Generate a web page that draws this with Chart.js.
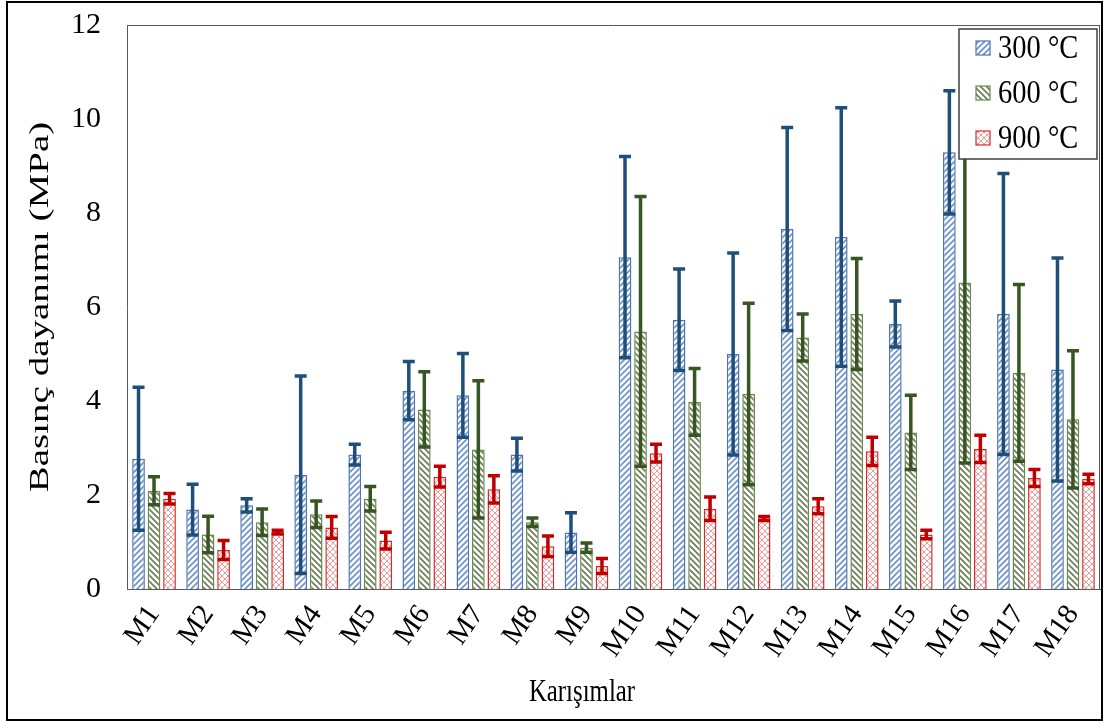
<!DOCTYPE html>
<html>
<head>
<meta charset="utf-8">
<script src="https://cdn.jsdelivr.net/npm/chart.js@4/dist/chart.umd.min.js"></script>
<style>
  body { margin: 0; background: #fff; }
  canvas { display: block; }
</style>
</head>
<body>
<canvas id="chart" width="1105" height="722"></canvas>
<script>
// categories
var mixes = ['M1','M2','M3','M4','M5','M6','M7','M8','M9','M10','M11','M12','M13','M14','M15','M16','M17','M18'];
var seriesNames = ['300 °C', '600 °C', '900 °C'];

// mean compressive strength (MPa)
var mean300 = [2.77,1.69,1.78,2.43,2.86,4.22,4.12,2.86,1.20,7.06,5.73,5.00,7.66,7.49,5.64,9.29,5.85,4.67];
var mean600 = [2.09,1.16,1.42,1.59,1.92,3.82,2.97,1.42,0.88,5.48,3.98,4.15,5.35,5.85,3.33,6.52,4.60,3.61];
var mean900 = [1.92,0.83,1.21,1.31,1.03,2.39,2.12,0.91,0.49,2.89,1.71,1.50,1.76,2.93,1.16,2.98,2.36,2.34];

// error bar half widths (MPa)
var err300 = [1.52,0.54,0.14,2.10,0.22,0.62,0.89,0.35,0.42,2.14,1.08,2.15,2.16,2.75,0.49,1.31,2.99,2.37];
var err600 = [0.30,0.39,0.28,0.28,0.26,0.80,1.46,0.09,0.10,2.87,0.71,1.93,0.50,1.18,0.79,3.84,1.88,1.46];
var err900 = [0.11,0.20,0.04,0.23,0.18,0.22,0.29,0.22,0.16,0.19,0.25,0.04,0.16,0.30,0.09,0.29,0.18,0.10];

var yTicks = [0, 2, 4, 6, 8, 10, 12];
var xTitle = 'Karışımlar';
var yTitle = 'Basınç dayanımı (MPa)';

var FONT = "'Liberation Serif', 'Times New Roman', serif";
var canvas = document.getElementById('chart');
var ctx = canvas.getContext('2d');

// hatch fills
function makeHatch(color, kind) {
  var s = 6;
  var c = document.createElement('canvas');
  c.width = s; c.height = s;
  var g = c.getContext('2d');
  g.fillStyle = '#fff';
  g.fillRect(0, 0, s, s);
  g.strokeStyle = color;
  g.lineWidth = kind == 'cross' ? 0.9 : 1.7;
  g.beginPath();
  if (kind == 'up' || kind == 'cross') {
    g.moveTo(-1, s + 1); g.lineTo(s + 1, -1);
    g.moveTo(-1, 1); g.lineTo(1, -1);
    g.moveTo(s - 1, s + 1); g.lineTo(s + 1, s - 1);
  }
  if (kind == 'down' || kind == 'cross') {
    g.moveTo(-1, -1); g.lineTo(s + 1, s + 1);
    g.moveTo(s - 1, -1); g.lineTo(s + 1, 1);
    g.moveTo(-1, s - 1); g.lineTo(1, s + 1);
  }
  g.stroke();
  return ctx.createPattern(c, 'repeat');
}

var fills = [makeHatch('#6f93c6', 'up'), makeHatch('#6c7f58', 'down'), makeHatch('#eb8f8f', 'cross')];
var borders = ['#4f76b0', '#6b8752', '#d62b2b'];
var errColors = ['#1f4e79', '#375623', '#c00000'];
var means = [mean300, mean600, mean900];
var errs = [err300, err600, err900];

var datasets = seriesNames.map(function(name, i) {
  return {
    label: name,
    data: means[i],
    errors: errs[i],
    backgroundColor: fills[i],
    borderColor: borders[i],
    borderWidth: 1.5,
    categoryPercentage: 0.86,
    barPercentage: 0.82,
  };
});

// error bars, drawn with the y scale
var errorBars = {
  id: 'errorBars',
  afterDatasetsDraw: function(chart) {
    var c = chart.ctx, y = chart.scales.y;
    chart.data.datasets.forEach(function(ds, i) {
      var meta = chart.getDatasetMeta(i);
      c.save();
      c.strokeStyle = errColors[i];
      c.lineWidth = 3.5;
      meta.data.forEach(function(bar, j) {
        var hi = y.getPixelForValue(ds.data[j] + ds.errors[j]);
        var lo = y.getPixelForValue(ds.data[j] - ds.errors[j]);
        c.beginPath();
        c.moveTo(bar.x, hi); c.lineTo(bar.x, lo);
        c.moveTo(bar.x - 6, hi); c.lineTo(bar.x + 6, hi);
        c.moveTo(bar.x - 6, lo); c.lineTo(bar.x + 6, lo);
        c.stroke();
      });
      c.restore();
    });
  }
};

// axis titles, plot frame, legend box and outer frame
var frame = {
  id: 'frame',
  afterDraw: function(chart) {
    var c = chart.ctx, a = chart.chartArea;
    c.save();
    c.strokeStyle = '#595959';
    c.lineWidth = 1;
    c.beginPath();
    c.moveTo(a.left, a.top + 0.5); c.lineTo(a.right, a.top + 0.5);
    c.moveTo(a.right - 0.5, a.top); c.lineTo(a.right - 0.5, a.bottom);
    c.stroke();

    // axis titles (slightly tall type, as in the source image)
    c.fillStyle = '#000';
    c.textAlign = 'center';
    c.textBaseline = 'middle';
    c.font = '30px ' + FONT;
    c.save();
    c.translate(41, (a.top + a.bottom) / 2);
    c.rotate(-Math.PI / 2);
    c.scale(1.3, 0.92);
    c.fillText(yTitle, 0, 0);
    c.restore();
    c.save();
    c.translate(582, 693);
    c.scale(0.92, 1.15);
    c.font = '27px ' + FONT;
    c.fillText(xTitle, 0, 0);
    c.restore();

    // legend
    var lx = 959, ly = 29, lw = 138, lh = 130;
    c.fillStyle = '#fff';
    c.fillRect(lx, ly, lw, lh);
    c.strokeStyle = '#404040';
    c.lineWidth = 1.5;
    c.strokeRect(lx, ly, lw, lh);
    c.textAlign = 'left';
    seriesNames.forEach(function(name, i) {
      var cy = ly + 19 + i * 45;
      c.fillStyle = fills[i];
      c.fillRect(976, cy - 7, 14, 14);
      c.strokeStyle = borders[i];
      c.lineWidth = 1.2;
      c.strokeRect(976, cy - 7, 14, 14);
      c.fillStyle = '#000';
      c.save();
      c.translate(998, cy + 1);
      c.scale(0.95, 1.12);
      c.font = '30px ' + FONT;
      c.fillText(name, 0, 0);
      c.restore();
    });

    c.strokeStyle = '#000';
    c.lineWidth = 2;
    c.strokeRect(7, 2, 1095, 718);
    c.restore();
  }
};

var chart = new Chart(ctx, {
  type: 'bar',
  data: { labels: mixes, datasets: datasets },
  plugins: [errorBars, frame],
  options: {
    responsive: false,
    animation: false,
    devicePixelRatio: 1,
    layout: { padding: { left: 8, top: 25, right: 5, bottom: 0 } },
    plugins: { legend: { display: false }, tooltip: { enabled: false } },
    scales: {
      x: {
        grid: { display: false },
        border: { display: true, color: '#595959', width: 1 },
        ticks: {
          color: '#000',
          font: { family: FONT, size: 29 },
          minRotation: 55, maxRotation: 55,
          autoSkip: false,
          padding: 2,
        },
        afterFit: function(scale) {
          scale.height = 133;
          scale.paddingLeft = 0; scale.paddingRight = 0;
        },
      },
      y: {
        min: 0, max: 12,
        grid: { display: false, drawTicks: false },
        border: { display: true, color: '#595959', width: 1 },
        afterBuildTicks: function(scale) {
          scale.ticks = yTicks.map(function(v) { return { value: v }; });
        },
        ticks: {
          color: '#000',
          font: { family: FONT, size: 30 },
          padding: 26,
        },
        afterFit: function(scale) {
          scale.width = 119;
          scale.paddingTop = 0; scale.paddingBottom = 0;
        },
      },
    },
  },
});
</script>
</body>
</html>
